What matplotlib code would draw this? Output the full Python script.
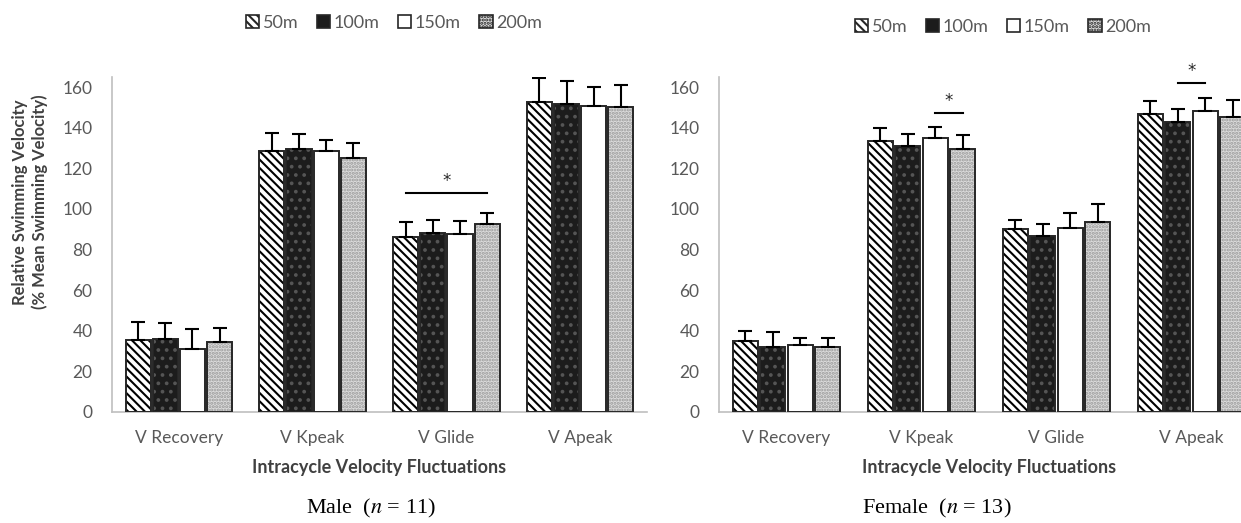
import numpy as np
import matplotlib

matplotlib.use("Agg")
import matplotlib.pyplot as plt
from matplotlib.patches import Patch

# ---- data ----
categories = ["V Recovery", "V Kpeak", "V Glide", "V Apeak"]
distances = ["50m", "100m", "150m", "200m"]

# rows = category, cols = distance
male_mean = [
    [35.6, 36.0, 31.1, 34.6],
    [128.4, 129.6, 128.4, 125.0],
    [86.1, 88.4, 87.6, 92.7],
    [152.9, 151.9, 150.9, 150.1],
]
male_sd = [
    [8.8, 8.0, 9.6, 6.6],
    [9.1, 7.4, 5.8, 7.7],
    [7.7, 6.4, 6.6, 5.1],
    [11.6, 11.2, 9.1, 11.1],
]
female_mean = [
    [35.1, 31.8, 33.1, 31.8],
    [133.7, 131.2, 135.0, 129.4],
    [89.9, 86.6, 90.7, 93.7],
    [146.8, 143.0, 148.3, 145.3],
]
female_sd = [
    [4.6, 7.4, 3.3, 4.6],
    [6.3, 5.8, 5.5, 7.1],
    [4.9, 5.9, 7.1, 8.9],
    [6.3, 6.3, 6.4, 8.2],
]
# (category, first bar, last bar, line height)
male_sig = [(2, 0, 3, 107.8)]
female_sig = [(1, 2, 3, 147.1), (3, 1, 2, 162.1)]

yticks = [0, 20, 40, 60, 80, 100, 120, 140, 160]

# ---- style ----
INK = "#262626"
TICK = "#595959"
SPINE = "#bfbfbf"
plt.rcParams.update({
    "font.family": ["Lato", "DejaVu Sans"],
    "hatch.linewidth": 1.5,
    "mathtext.fontset": "stix",
})

# fill, hatch colour, hatch pattern per distance
styles = [
    ("white", "black", "\\\\\\\\"),
    ("#1c1c1c", "#555555", ".."),
    ("white", "white", None),
    ("#dcdcdc", "#9a9a9a", "....."),
]

W = 0.187
STEP = 0.2037


def panel(ax, means, sds, sigs):
    means = np.array(means)
    sds = np.array(sds)
    x = np.arange(len(categories))
    for j in range(len(distances)):
        xs = x + (j - 1.5) * STEP
        fc, hc, hatch = styles[j]
        ax.bar(xs, means[:, j], W, color=fc, edgecolor=hc, lw=0, hatch=hatch, zorder=2)
        ax.bar(xs, means[:, j], W, fill=False, edgecolor=INK, lw=1.4, zorder=3)
        ax.errorbar(xs, means[:, j], yerr=[np.zeros(len(x)), sds[:, j]], fmt="none",
                    ecolor="black", elinewidth=1.5, capsize=5, capthick=1.5, zorder=4)
    for c, a, b, h in sigs:
        x0 = c + (a - 1.5) * STEP
        x1 = c + (b - 1.5) * STEP
        ax.plot([x0, x1], [h, h], color="black", lw=1.5, clip_on=False, zorder=5)
        ax.text((x0 + x1) / 2, h + 1.5, "*", ha="center", va="bottom", fontsize=12,
                color=INK, family="DejaVu Sans", clip_on=False)

    ax.set_xlim(-0.5, 3.5)
    ax.set_ylim(0, 165)
    ax.set_yticks(yticks)
    ax.set_xticks(x)
    ax.set_xticklabels(categories)
    ax.tick_params(axis="both", length=0, labelsize=12.5, labelcolor=TICK)
    ax.tick_params(axis="x", pad=13)
    ax.tick_params(axis="y", pad=14)
    for s in ("top", "right"):
        ax.spines[s].set_visible(False)
    for s in ("left", "bottom"):
        ax.spines[s].set_color(SPINE)
        ax.spines[s].set_linewidth(1.2)
    ax.text(0.5, (412 - 468) / 335, "Intracycle Velocity Fluctuations", transform=ax.transAxes,
            ha="center", va="center", fontsize=13, fontweight="bold", color="#404040")


fig = plt.figure(figsize=(12.41, 5.23), dpi=100)
axm = fig.add_axes([112 / 1241, 111 / 523, 535 / 1241, 335 / 523])
axf = fig.add_axes([719 / 1241, 111 / 523, 540 / 1241, 335 / 523])
panel(axm, male_mean, male_sd, male_sig)
panel(axf, female_mean, female_sd, female_sig)

fig.text(30 / 1241, 1 - 202 / 523, "Relative Swimming Velocity\n(% Mean Swimming Velocity)",
         rotation=90, ha="center", va="center", multialignment="center",
         fontsize=12, fontweight="bold", color="#404040")

handles = [Patch(facecolor=fc, edgecolor=INK, hatch=h if j != 1 else None, lw=1.2)
           for j, (fc, hc, h) in enumerate(styles)]
for cx, cy in ((394, 23), (1003, 27)):
    fig.legend(handles, distances, loc="center", bbox_to_anchor=(cx / 1241, 1 - cy / 523),
               ncol=4, frameon=False, fontsize=13, handlelength=0.75, handleheight=0.75,
               handletextpad=0.2, columnspacing=1.0, labelcolor=TICK)

fig.text(371 / 1241, 1 - 508 / 523, "Male  ($n$ = 11)", ha="center", va="center",
         fontsize=16, family="Liberation Serif")
fig.text(937 / 1241, 1 - 508 / 523, "Female  ($n$ = 13)", ha="center", va="center",
         fontsize=16, family="Liberation Serif")

fig.savefig("out.png", dpi=100)
